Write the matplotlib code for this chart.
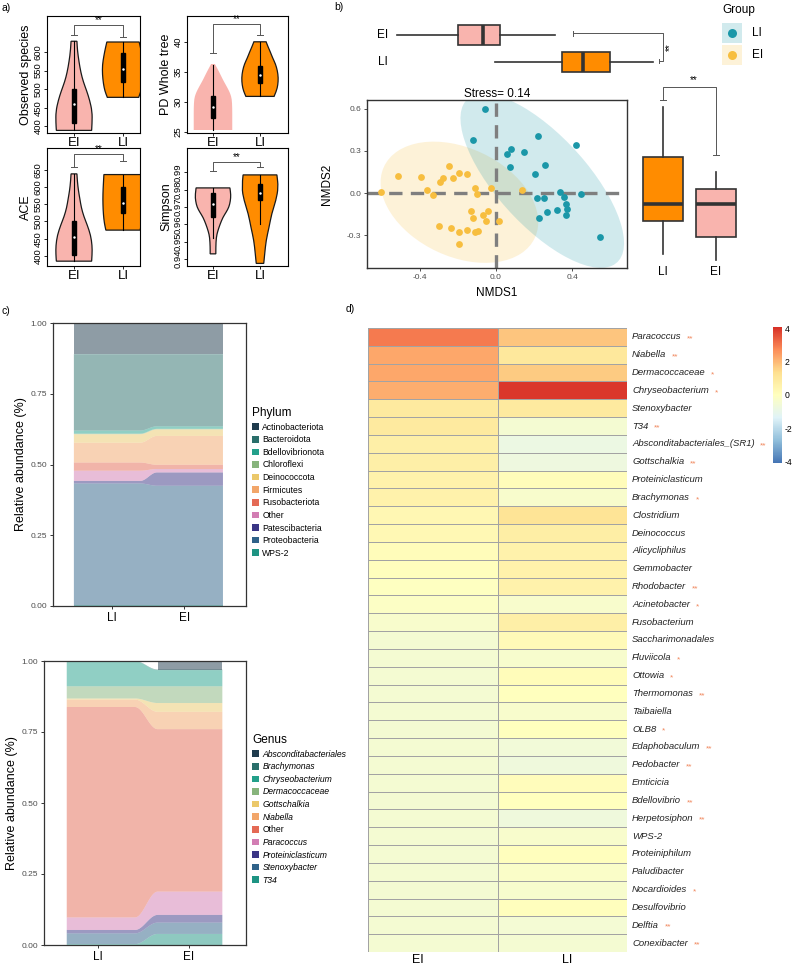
import numpy as np
import matplotlib
matplotlib.use("Agg")
import matplotlib.pyplot as plt
from matplotlib.patches import Ellipse, Patch, Rectangle, PathPatch
from matplotlib.path import Path
from matplotlib.colors import LinearSegmentedColormap, Normalize
from matplotlib.cm import ScalarMappable

plt.rcParams['font.family'] = ['Liberation Sans', 'DejaVu Sans']
plt.rcParams['axes.unicode_minus'] = False

W, H = 796, 966

PINK = "#F9B4AE"
ORANGE = "#FF8C00"
TEAL = "#1B97A8"
YELLOW = "#F7BE3F"

# ---------------- panel a : alpha diversity violins ----------------
obs_ei_y = [389, 410, 440, 470, 495, 520, 545, 575, 605, 629]
obs_ei_w = [0.36, 0.37, 0.37, 0.32, 0.26, 0.19, 0.14, 0.10, 0.07, 0.06]
obs_li_y = [478, 495, 515, 540, 565, 590, 610, 627]
obs_li_w = [0.32, 0.37, 0.40, 0.42, 0.42, 0.39, 0.36, 0.33]
obs_box = [(389, 409, 460, 500, 629), (478, 519, 553, 597, 627)]
obs_sig = (646, 673, 640)

pd_ei_y = [25.3, 27.0, 29.0, 30.5, 31.3, 32.0, 33.0, 33.7, 35.0, 36.3]
pd_ei_w = [0.41, 0.41, 0.41, 0.40, 0.37, 0.33, 0.26, 0.21, 0.13, 0.04]
pd_li_y = [30.9, 31.8, 32.8, 34.0, 35.2, 36.3, 37.3, 38.3, 39.2, 40.0]
pd_li_w = [0.30, 0.35, 0.38, 0.39, 0.37, 0.33, 0.27, 0.22, 0.17, 0.13]
pd_box = [(25.3, 27.3, 29.2, 31.0, 36.2), (30.9, 33.2, 34.5, 36.0, 40.0)]
pd_sig = (38.2, 43.0, 41.2)

ace_ei_y = [385, 405, 430, 460, 490, 515, 540, 565, 590, 615, 638]
ace_ei_w = [0.36, 0.37, 0.37, 0.34, 0.27, 0.20, 0.15, 0.12, 0.09, 0.07, 0.06]
ace_li_y = [475, 495, 520, 550, 580, 610, 636]
ace_li_w = [0.35, 0.38, 0.40, 0.41, 0.41, 0.40, 0.39]
ace_box = [(385, 404, 456, 500, 638), (475, 525, 555, 601, 636)]
ace_sig = (659, 696, 676)

simp_ei_y = [0.943, 0.947, 0.9525, 0.956, 0.960, 0.964, 0.967, 0.970, 0.9735, 0.977, 0.981]
simp_ei_w = [0.06, 0.06, 0.07, 0.10, 0.15, 0.21, 0.28, 0.34, 0.37, 0.38, 0.36]
simp_li_y = [0.9375, 0.943, 0.9507, 0.958, 0.9663, 0.9738, 0.9813, 0.9885]
simp_li_w = [0.08, 0.10, 0.13, 0.19, 0.25, 0.34, 0.39, 0.36]
simp_box = [(0.952, 0.964, 0.972, 0.978, 0.981), (0.960, 0.974, 0.978, 0.983, 0.9885)]
simp_sig = (0.991, 0.996, 0.993)

# ---------------- panel b : NMDS ----------------
li_x = [-0.058, -0.122, 0.221, 0.418, 0.077, 0.059, 0.148, 0.073, 0.256, 0.204, 0.335,
        0.356, 0.444, 0.216, 0.251, 0.366, 0.370, 0.366, 0.322, 0.268, 0.227, 0.544]
li_y = [0.598, 0.378, 0.407, 0.340, 0.312, 0.279, 0.291, 0.184, 0.203, 0.137, 0.005,
        -0.024, -0.007, -0.038, -0.038, -0.076, -0.113, -0.154, -0.118, -0.132, -0.180, -0.314]
ei_x = [-0.603, -0.514, -0.392, -0.244, -0.195, -0.153, -0.223, -0.279, -0.293, -0.359,
        -0.331, -0.110, -0.101, -0.028, 0.134, -0.131, -0.119, -0.070, -0.042, -0.052,
        0.014, -0.300, -0.235, -0.192, -0.150, -0.110, -0.092, -0.192]
ei_y = [0.005, 0.123, 0.113, 0.196, 0.142, 0.137, 0.106, 0.106, 0.080, 0.024,
        -0.014, 0.035, -0.005, 0.035, 0.024, -0.130, -0.177, -0.154, -0.130, -0.201,
        -0.201, -0.232, -0.246, -0.277, -0.260, -0.279, -0.272, -0.359]
stress = 0.14
# box stats: whislo, q1, med, q3, whishi
nmds1_box = {"EI": (-0.52, -0.20, -0.07, 0.02, 0.31), "LI": (-0.005, 0.343, 0.457, 0.596, 0.823)}
nmds2_box = {"LI": (-0.43, -0.196, -0.076, 0.26, 0.61), "EI": (-0.478, -0.312, -0.076, 0.028, 0.147)}

# ---------------- panel c : stacked composition ----------------
palette = ["#1F3B4D", "#2A6F6B", "#23A08A", "#87B47C", "#EBC86A", "#F2A66A",
           "#E46A55", "#D27DB3", "#3A3585", "#2F6289", "#1E9483"]
phyla = ["Actinobacteriota", "Bacteroidota", "Bdellovibrionota", "Chloroflexi",
         "Deinococcota", "Firmicutes", "Fusobacteriota", "Other", "Patescibacteria",
         "Proteobacteria", "WPS-2"]
phylum_li = [0.110, 0.270, 0.011, 0.002, 0.030, 0.070, 0.029, 0.036, 0.009, 0.431, 0.002]
phylum_ei = [0.110, 0.255, 0.009, 0.002, 0.023, 0.102, 0.015, 0.012, 0.047, 0.423, 0.002]
genera = ["Absconditabacteriales", "Brachymonas", "Chryseobacterium", "Dermacoccaceae",
          "Gottschalkia", "Niabella", "Other", "Paracoccus", "Proteiniclasticum",
          "Stenoxybacter", "T34"]
genus_li = [0.000, 0.001, 0.088, 0.043, 0.004, 0.026, 0.741, 0.044, 0.012, 0.038, 0.003]
genus_ei = [0.030, 0.002, 0.057, 0.059, 0.031, 0.061, 0.572, 0.082, 0.027, 0.040, 0.039]
abund_ticks = [0.0, 0.25, 0.5, 0.75, 1.0]

# ---------------- panel d : heatmap ----------------
taxa = ["Paracoccus", "Niabella", "Dermacoccaceae", "Chryseobacterium", "Stenoxybacter",
        "T34", "Absconditabacteriales_(SR1)", "Gottschalkia", "Proteiniclasticum",
        "Brachymonas", "Clostridium", "Deinococcus", "Alicycliphilus", "Gemmobacter",
        "Rhodobacter", "Acinetobacter", "Fusobacterium", "Saccharimonadales", "Fluviicola",
        "Ottowia", "Thermomonas", "Taibaiella", "OLB8", "Edaphobaculum", "Pedobacter",
        "Emticicia", "Bdellovibrio", "Herpetosiphon", "WPS-2", "Proteiniphilum",
        "Paludibacter", "Nocardioides", "Desulfovibrio", "Delftia", "Conexibacter"]
signif = ["**", "**", "*", "*", "", "**", "**", "**", "", "*", "", "", "", "", "**", "*",
          "", "", "*", "*", "**", "", "*", "**", "**", "", "**", "**", "", "", "", "*",
          "", "**", "**"]
heat_ei = [3.0, 2.3, 2.3, 2.2, 0.9, 0.9, 0.7, 0.7, 0.6, 0.6, 0.35, 0.3, 0.15, 0.05,
           -0.05, -0.15, -0.3, -0.45, -0.45, -0.45, -0.45, -0.45, -0.45, -0.45, -0.45,
           -0.45, -0.45, -0.45, -0.45, -0.45, -0.45, -0.45, -0.45, -0.45, -0.45]
heat_li = [1.8, 1.0, 1.7, 4.0, 0.9, -0.45, -0.85, -0.75, 0.15, -0.3, 1.2, 0.75, 0.6, 0.6,
           0.6, -0.3, 0.7, 0.2, -0.35, 0.15, 0.0, -0.3, 0.0, -0.6, -0.7, 0.1, 0.02, -0.7,
           -0.3, 0.05, -0.2, -0.35, 0.05, -0.5, -0.45]


def box(x0, y0, x1, y1):
    return [x0 / W, 1 - y1 / H, (x1 - x0) / W, (y1 - y0) / H]


fig = plt.figure(figsize=(W / 100, H / 100), dpi=100)


# ---- panel a ----
def smooth_path(pts):
    # quadratic bezier through midpoints, keeps corners at the ends
    verts = [pts[0]]
    codes = [Path.MOVETO]
    for i in range(1, len(pts) - 1):
        mid = ((pts[i][0] + pts[i + 1][0]) / 2, (pts[i][1] + pts[i + 1][1]) / 2)
        verts += [pts[i], mid]
        codes += [Path.CURVE3, Path.CURVE3]
    verts.append(pts[-1])
    codes.append(Path.LINETO)
    return verts, codes


def violin(ax, x, ys, ws, color, edge=True):
    right = [(x + w, y) for y, w in zip(ys, ws)]
    left = [(x - w, y) for y, w in zip(ys, ws)][::-1]
    v1, c1 = smooth_path(right)
    v2, c2 = smooth_path(left)
    c2[0] = Path.LINETO
    verts = v1 + v2 + [v1[0]]
    codes = c1 + c2 + [Path.CLOSEPOLY]
    ax.add_patch(PathPatch(Path(verts, codes), facecolor=color,
                           edgecolor="#1a1a1a" if edge else "none", lw=0.9, zorder=1))


def inner_box(ax, x, st):
    lo, q1, med, q3, hi = st
    ax.plot([x, x], [lo, hi], color="black", lw=0.8, zorder=2)
    ax.add_patch(Rectangle((x - 0.045, q1), 0.09, q3 - q1, color="black", zorder=3))
    ax.plot(x, med, "o", color="white", ms=1.8, mew=0, zorder=4)


def bracket(ax, sig):
    ya, yt, yb = sig
    ax.plot([1, 1, 2, 2], [ya, yt, yt, yb], color="#555555", lw=0.7, zorder=2)
    for xx, yy in [(1, ya), (2, yb)]:
        ax.plot([xx - 0.06, xx + 0.06], [yy, yy], color="#555555", lw=0.7)
    ax.text(1.5, yt, "**", ha="center", va="bottom", fontsize=7)


a_specs = [
    (box(47, 16, 140, 133), (0.449, 2.347), (382, 697), [400, 450, 500, 550, 600],
     "Observed species", obs_ei_y, obs_ei_w, obs_li_y, obs_li_w, obs_box, obs_sig, True),
    (box(187, 16, 288, 133), (0.447, 2.596), (24.8, 44.3), [25, 30, 35, 40],
     "PD Whole tree", pd_ei_y, pd_ei_w, pd_li_y, pd_li_w, pd_box, pd_sig, False),
    (box(47, 148, 140, 266), (0.449, 2.347), (371, 713), [400, 450, 500, 550, 600, 650],
     "ACE", ace_ei_y, ace_ei_w, ace_li_y, ace_li_w, ace_box, ace_sig, True),
    (box(187, 148, 288, 266), (0.447, 2.596), (0.936, 1.004),
     [0.94, 0.95, 0.96, 0.97, 0.98, 0.99],
     "Simpson", simp_ei_y, simp_ei_w, simp_li_y, simp_li_w, simp_box, simp_sig, True),
]
for rect, xl, yl, yt, lab, ey, ew, ly, lw_, bx, sg, ei_edge in a_specs:
    ax = fig.add_axes(rect)
    violin(ax, 1, ey, ew, PINK, edge=ei_edge)
    violin(ax, 2, ly, lw_, ORANGE)
    inner_box(ax, 1, bx[0])
    inner_box(ax, 2, bx[1])
    bracket(ax, sg)
    ax.set_xlim(*xl)
    ax.set_ylim(*yl)
    ax.set_xticks([1, 2])
    ax.set_xticklabels(["EI", "LI"], fontsize=9.5)
    ax.set_yticks(yt)
    ax.set_yticklabels([("%g" % v) for v in yt], rotation=90, va="center", fontsize=6.8)
    ax.set_ylabel(lab, fontsize=9, labelpad=1)
    ax.tick_params(length=2, width=0.6, pad=1)
    for s in ax.spines.values():
        s.set_linewidth(0.8)

fig.text(1 / W, 1 - 8 / H, "a)", fontsize=7.5, va="center")

# ---- panel b ----
fig.text(334 / W, 1 - 7 / H, "b)", fontsize=7.5, va="center")


def conf_ellipse(ax, x, y, color):
    x = np.asarray(x)
    y = np.asarray(y)
    vals, vecs = np.linalg.eigh(np.cov(x, y))
    k = 2.62
    ang = np.degrees(np.arctan2(vecs[1, 1], vecs[0, 1]))
    ax.add_patch(Ellipse((x.mean(), y.mean()), 2 * k * np.sqrt(vals[1]),
                         2 * k * np.sqrt(vals[0]), angle=ang, facecolor=color,
                         alpha=0.2, lw=0, zorder=1))


axs = fig.add_axes(box(367, 100, 627, 268))
conf_ellipse(axs, ei_x, ei_y, YELLOW)
conf_ellipse(axs, li_x, li_y, TEAL)
axs.axhline(0, color="#7F7F7F", lw=2.4, ls=(0, (4, 2.5)), zorder=2)
axs.axvline(0, color="#7F7F7F", lw=2.4, ls=(0, (4, 2.5)), zorder=2)
axs.scatter(ei_x, ei_y, s=24, color=YELLOW, lw=0, zorder=3)
axs.scatter(li_x, li_y, s=24, color=TEAL, lw=0, zorder=3)
axs.set_xlim(-0.676, 0.687)
axs.set_ylim(-0.532, 0.662)
axs.set_xticks([-0.4, 0.0, 0.4])
axs.set_yticks([-0.3, 0.0, 0.3, 0.6])
axs.set_xticklabels(["-0.4", "0.0", "0.4"])
axs.set_yticklabels(["-0.3", "0.0", "0.3", "0.6"])
axs.tick_params(labelsize=6, labelcolor="#4D4D4D", length=2, width=0.6, color="#333333", pad=2)
axs.set_xlabel("NMDS1", fontsize=8.5, labelpad=5)
axs.set_ylabel("NMDS2", fontsize=8.5, labelpad=10)
axs.set_title("Stress= %.2f" % stress, fontsize=8.5, pad=2)
for s in axs.spines.values():
    s.set_linewidth(1.0)
    s.set_color("#333333")

# top boxplot of NMDS1
axt = fig.add_axes(box(367, 15, 700, 80))
axt.set_xlim(-0.676, 1.067)
axt.set_ylim(0.333, 2.74)
axt.axis("off")
stats = []
for g in ["EI", "LI"]:
    lo, q1, med, q3, hi = nmds1_box[g]
    stats.append(dict(whislo=lo, q1=q1, med=med, q3=q3, whishi=hi, label=g))
bp = axt.bxp(stats, positions=[2, 1], widths=0.72, vert=False, patch_artist=True,
             showfliers=False, showcaps=False,
             boxprops=dict(edgecolor="#333333", lw=1.2),
             whiskerprops=dict(color="#333333", lw=1.2),
             medianprops=dict(color="#333333", lw=2.6))
bp["boxes"][0].set_facecolor(PINK)
bp["boxes"][1].set_facecolor(ORANGE)
axt.text(-0.592, 2, "EI", ha="center", va="center", fontsize=8.5)
axt.text(-0.592, 1, "LI", ha="center", va="center", fontsize=8.5)
axt.plot([0.40, 0.875, 0.875, 0.85], [2.07, 2.07, 1.04, 1.04], color="#555555", lw=0.7)
axt.plot([0.40, 0.40], [1.97, 2.16], color="#555555", lw=0.7)
axt.plot([0.85, 0.85], [0.96, 1.12], color="#555555", lw=0.7)
axt.text(0.91, 1.55, "**", rotation=90, ha="center", va="center", fontsize=7)

# right boxplot of NMDS2
axr = fig.add_axes(box(640, 70, 745, 268))
axr.set_xlim(0.566, 2.547)
axr.set_ylim(-0.532, 0.875)
axr.axis("off")
stats = []
for g in ["LI", "EI"]:
    lo, q1, med, q3, hi = nmds2_box[g]
    stats.append(dict(whislo=lo, q1=q1, med=med, q3=q3, whishi=hi, label=g))
bp = axr.bxp(stats, positions=[1, 2], widths=0.74, patch_artist=True,
             showfliers=False, showcaps=False,
             boxprops=dict(edgecolor="#333333", lw=1.2),
             whiskerprops=dict(color="#333333", lw=1.2),
             medianprops=dict(color="#333333", lw=2.6))
bp["boxes"][0].set_facecolor(ORANGE)
bp["boxes"][1].set_facecolor(PINK)
axr.plot([1, 1, 2, 2], [0.662, 0.752, 0.752, 0.272], color="#555555", lw=0.7)
axr.plot([0.95, 1.05], [0.662, 0.662], color="#555555", lw=0.7)
axr.plot([1.95, 2.05], [0.272, 0.272], color="#555555", lw=0.7)
axr.text(1.58, 0.77, "**", ha="center", va="bottom", fontsize=7)
fig.text(663 / W, 1 - 272 / H, "LI", ha="center", va="center", fontsize=8.5)
fig.text(716 / W, 1 - 272 / H, "EI", ha="center", va="center", fontsize=8.5)

# group legend
axl = fig.add_axes(box(715, 0, 796, 70))
axl.set_xlim(715, 796)
axl.set_ylim(70, 0)
axl.axis("off")
axl.text(722, 10, "Group", fontsize=8.5, va="center", ha="left")
for yy, c, g in [(33, TEAL, "LI"), (55, YELLOW, "EI")]:
    axl.add_patch(Rectangle((722, yy - 10), 20, 20, facecolor=c, alpha=0.2, lw=0))
    axl.plot(732, yy, "o", color=c, ms=6.5, mew=0)
    axl.text(752, yy, g, fontsize=8.5, va="center", ha="left")


# ---- panel c ----
def alluvium(ax, vals_l, vals_r, colors, l_span, r_span):
    vals_l = np.asarray(vals_l)
    vals_r = np.asarray(vals_r)
    bl = np.concatenate([[0], np.cumsum(vals_l)[:-1]])
    br = np.concatenate([[0], np.cumsum(vals_r)[:-1]])
    t = np.linspace(0, 1, 60)
    s = (1 - np.cos(np.pi * t)) / 2
    xt = l_span[1] + (r_span[0] - l_span[1]) * t
    for k in range(len(vals_l)):
        tl, tr = bl[k] + vals_l[k], br[k] + vals_r[k]
        if vals_l[k] > 0 and vals_r[k] > 0:
            xs = np.concatenate([[l_span[0]], xt, [r_span[1]]])
            los = np.concatenate([[bl[k]], bl[k] + (br[k] - bl[k]) * s, [br[k]]])
            his = np.concatenate([[tl], tl + (tr - tl) * s, [tr]])
        elif vals_l[k] > 0:
            xs, los, his = l_span, [bl[k]] * 2, [tl] * 2
        else:
            xs, los, his = r_span, [br[k]] * 2, [tr] * 2
        ax.fill_between(xs, los, his, facecolor=colors[k], alpha=0.5, lw=0)


def comp_axes(rect, xl, li, ei, names, l_span, r_span, title, leg_xy, italic):
    ax = fig.add_axes(rect)
    alluvium(ax, li[::-1], ei[::-1], palette[::-1], l_span, r_span)
    ax.set_xlim(*xl)
    ax.set_ylim(0, 1)
    ax.set_xticks([1, 2])
    ax.set_xticklabels(["LI", "EI"], fontsize=8.5)
    ax.set_yticks(abund_ticks)
    ax.set_yticklabels(["%.2f" % v for v in abund_ticks])
    ax.tick_params(axis="y", labelsize=6, labelcolor="#4D4D4D")
    ax.tick_params(length=2.5, width=0.7, color="#333333", pad=1.5)
    ax.set_ylabel("Relative abundance (%)", fontsize=9, labelpad=3)
    for sp in ax.spines.values():
        sp.set_linewidth(0.9)
        sp.set_color("#333333")
    handles = [Patch(facecolor=c, edgecolor="none") for c in palette]
    leg = ax.legend(handles, names, loc="upper left", bbox_to_anchor=leg_xy,
                    bbox_transform=fig.transFigure, frameon=False, title=title,
                    fontsize=6.2, title_fontsize=8.5, handlelength=0.8, handleheight=0.8,
                    labelspacing=0.42, handletextpad=0.4, borderpad=0, borderaxespad=0,
                    alignment="left")
    if italic:
        for tx in leg.get_texts():
            if tx.get_text() != "Other":
                tx.set_style("italic")
    return ax


fig.text(2 / W, 1 - 311 / H, "c)", fontsize=7.5, va="center")
comp_axes(box(53, 323, 246, 606), (0.18, 2.86), phylum_li, phylum_ei, phyla,
          (0.47, 1.39), (1.625, 2.54), "Phylum", (252 / W, 1 - 407 / H), False)
comp_axes(box(44, 661, 246, 945), (0.41, 2.63), genus_li, genus_ei, genera,
          (0.66, 1.41), (1.66, 2.37), "Genus", (252 / W, 1 - 734 / H), True)

# ---- panel d ----
fig.text(346 / W, 1 - 309 / H, "d)", fontsize=7.5, va="center")
cmap = LinearSegmentedColormap.from_list(
    "rdylbu", ["#4575B4", "#91BFDB", "#E0F3F8", "#FFFFBF", "#FEE090", "#FC8D59", "#D73027"])
norm = Normalize(-4.1, 4.1)
axh = fig.add_axes(box(368, 328, 627, 952))
mat = np.column_stack([heat_ei, heat_li])
axh.pcolormesh(np.arange(3), np.arange(len(taxa) + 1), mat, cmap=cmap, norm=norm,
               edgecolors="#A3A3A3", linewidth=0.6)
axh.set_xlim(0, 2)
axh.set_ylim(len(taxa), 0)
axh.axis("off")
for i, (name, sg) in enumerate(zip(taxa, signif)):
    txt = axh.text(2.04, i + 0.5, name, ha="left", va="center", fontsize=6.8,
                   style="italic", color="#222222")
    if sg:
        axh.annotate(sg, xy=(1, 0.5), xycoords=txt, xytext=(4, -1.5),
                     textcoords="offset points", ha="left", va="center",
                     fontsize=6, color="#F0855A")
fig.text(418 / W, 1 - 960 / H, "EI", ha="center", va="center", fontsize=9)
fig.text(567 / W, 1 - 960 / H, "LI", ha="center", va="center", fontsize=9)

cax = fig.add_axes(box(773, 327, 782, 463))
cb = fig.colorbar(ScalarMappable(norm=norm, cmap=cmap), cax=cax, ticks=[-4, -2, 0, 2, 4])
cb.outline.set_visible(False)
cax.tick_params(length=0, labelsize=6.2, pad=2)

fig.savefig("out.png", dpi=100)
